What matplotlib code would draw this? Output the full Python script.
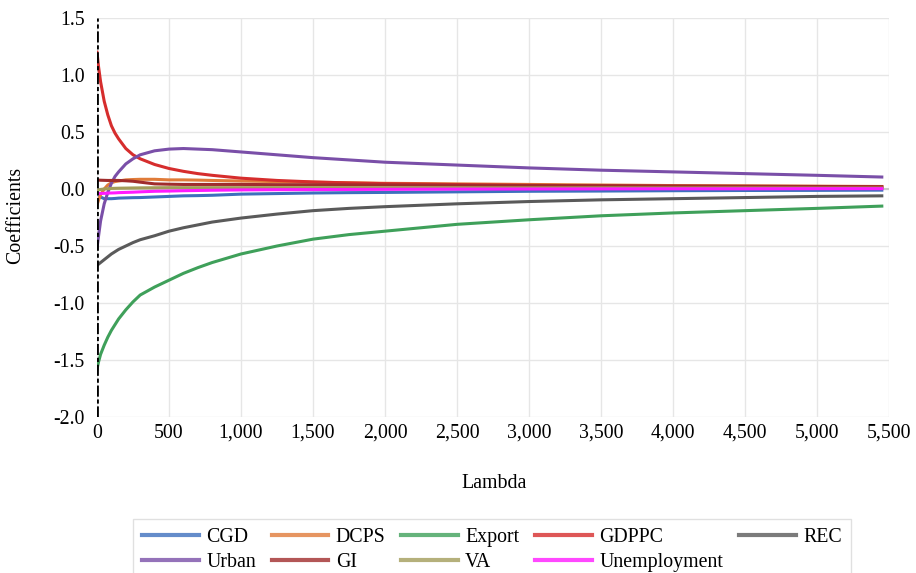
import matplotlib
matplotlib.use("Agg")
import matplotlib.pyplot as plt
from matplotlib.ticker import FuncFormatter

# lambda grid
lam = [0, 10, 25, 50, 75, 100, 125, 150, 200, 250, 300, 400, 500, 600, 700, 800,
       1000, 1250, 1500, 1750, 2000, 2500, 3000, 3500, 4000, 4500, 5000, 5450]

cgd = [-0.03, -0.05, -0.07, -0.085, -0.085, -0.085, -0.083, -0.08, -0.078, -0.076,
       -0.075, -0.07, -0.065, -0.06, -0.058, -0.055, -0.045, -0.04, -0.035, -0.032,
       -0.03, -0.025, -0.02, -0.018, -0.015, -0.013, -0.012, -0.01]
dcps = [-0.14, -0.10, -0.05, 0.0, 0.035, 0.055, 0.065, 0.07, 0.08, 0.083,
        0.085, 0.085, 0.08, 0.08, 0.078, 0.075, 0.07, 0.065, 0.06, 0.055,
        0.05, 0.045, 0.04, 0.035, 0.03, 0.028, 0.025, 0.022]
export = [-1.58, -1.52, -1.45, -1.37, -1.30, -1.24, -1.19, -1.14, -1.06, -0.99,
          -0.93, -0.86, -0.80, -0.74, -0.69, -0.645, -0.57, -0.50, -0.44, -0.40,
          -0.37, -0.31, -0.27, -0.235, -0.21, -0.19, -0.17, -0.15]
gdppc = [1.20, 1.08, 0.94, 0.77, 0.65, 0.555, 0.49, 0.44, 0.355, 0.30,
         0.265, 0.215, 0.18, 0.155, 0.135, 0.12, 0.095, 0.075, 0.062, 0.053,
         0.047, 0.039, 0.033, 0.028, 0.024, 0.021, 0.018, 0.016]
rec = [-0.67, -0.66, -0.645, -0.62, -0.595, -0.57, -0.55, -0.53, -0.50, -0.47,
       -0.445, -0.41, -0.37, -0.34, -0.315, -0.29, -0.255, -0.22, -0.19, -0.17,
       -0.155, -0.13, -0.11, -0.095, -0.085, -0.075, -0.065, -0.06]
urban = [-0.52, -0.42, -0.28, -0.13, -0.03, 0.05, 0.11, 0.15, 0.22, 0.265,
         0.30, 0.335, 0.35, 0.355, 0.35, 0.345, 0.325, 0.30, 0.275, 0.255,
         0.235, 0.21, 0.185, 0.165, 0.15, 0.135, 0.12, 0.105]
gi = [0.08, 0.078, 0.077, 0.076, 0.075, 0.075, 0.075, 0.075, 0.072, 0.068,
      0.06, 0.045, 0.042, 0.04, 0.04, 0.04, 0.04, 0.038, 0.037, 0.036,
      0.035, 0.032, 0.03, 0.028, 0.026, 0.024, 0.022, 0.02]
va = [-0.01, -0.008, -0.004, 0.0, 0.002, 0.005, 0.006, 0.007, 0.008, 0.009,
      0.01, 0.011, 0.012, 0.012, 0.012, 0.012, 0.012, 0.012, 0.012, 0.012,
      0.011, 0.011, 0.01, 0.01, 0.009, 0.009, 0.008, 0.008]
unemp = [-0.04, -0.04, -0.039, -0.038, -0.036, -0.035, -0.034, -0.032, -0.03, -0.028,
         -0.025, -0.02, -0.018, -0.015, -0.013, -0.011, -0.008, -0.006, -0.005, -0.004,
         -0.003, -0.001, 0.0, 0.001, 0.002, 0.002, 0.003, 0.003]

names = ["CGD", "DCPS", "Export", "GDPPC", "REC",
         "Urban", "GI", "VA", "Unemployment"]
series = [cgd, dcps, export, gdppc, rec, urban, gi, va, unemp]
colors = ["#3d70bd", "#e07b39", "#3fa05a", "#d62d2d", "#5a5a5a",
          "#7a4fa8", "#a02c2c", "#a39c5a", "#ff1aff"]

plt.rcParams["font.family"] = ["Liberation Serif", "DejaVu Serif"]
fs = 14.3

fig = plt.figure(figsize=(9.16, 5.73), dpi=100)
ax = fig.add_axes([97 / 916, 1 - 417 / 573, 792 / 916, 399 / 573])

ax.grid(True, color="#e6e6e6", linewidth=1.0)
ax.set_axisbelow(True)
ax.axhline(0, color="#c8c8c8", linewidth=1.5, zorder=1)

handles = {}
for name, vals, col in zip(names, series, colors):
    line, = ax.plot(lam, vals, color=col, linewidth=2.2, label=name, zorder=3)
    handles[name] = line

ax.axvline(0, color="black", linewidth=2.0, linestyle=(0, (4, 1, 1.5, 1)), zorder=4)

ax.set_xlim(0, 5500)
ax.set_ylim(-2.0, 1.5)
ax.set_xticks(range(0, 5501, 500))
ax.set_yticks([-2.0, -1.5, -1.0, -0.5, 0.0, 0.5, 1.0, 1.5])
ax.xaxis.set_major_formatter(FuncFormatter(lambda v, p: f"{int(v):,}"))
ax.yaxis.set_major_formatter(FuncFormatter(lambda v, p: f"{v:.1f}"))
ax.tick_params(length=0, labelsize=fs)
ax.tick_params(axis="y", pad=9)
ax.tick_params(axis="x", pad=5)
for s in ax.spines.values():
    s.set_visible(False)

ax.set_xlabel("Lambda", fontsize=fs)
ax.set_ylabel("Coefficients", fontsize=fs)
ax.xaxis.set_label_coords(0.501, -0.143)
ax.yaxis.set_label_coords(-0.091, 0.506)

# matplotlib fills legend columns first; reorder so rows read like the original
order = ["CGD", "Urban", "DCPS", "GI", "Export", "VA", "GDPPC", "Unemployment", "REC"]
leg = fig.legend([handles[n] for n in order], order,
                 loc="upper center", bbox_to_anchor=(0.537, 1 - 509 / 573),
                 ncol=5, fontsize=fs, frameon=True, fancybox=False,
                 edgecolor="#d9d9d9", handlelength=2.85, handletextpad=0.37,
                 columnspacing=0.8, borderpad=0.45, labelspacing=0.3)
leg.get_frame().set_linewidth(1.0)
for lh in leg.get_lines():
    lh.set_linewidth(3.0)
    lh.set_alpha(0.8)

fig.savefig("out.png", dpi=100)
